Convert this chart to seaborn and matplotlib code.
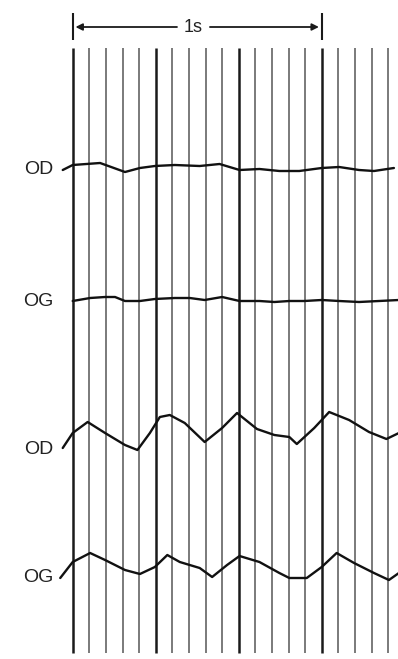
import numpy as np
import pandas as pd
import matplotlib.pyplot as plt
import seaborn as sns

# Recording: time (s) of each sample, vertical position in panel units (down = larger)
t_od1 = [-0.04, 0.0, 0.11, 0.21, 0.27, 0.33, 0.41, 0.51, 0.59, 0.67, 0.75, 0.83, 0.91, 1.0, 1.07, 1.15, 1.21, 1.29]
y_od1 = [170, 165, 163, 172, 168, 166, 165, 166, 164, 170, 169, 171, 171, 168, 167, 170, 171, 168]

t_og1 = [0.0, 0.07, 0.13, 0.17, 0.21, 0.27, 0.33, 0.41, 0.47, 0.53, 0.60, 0.67, 0.75, 0.81, 0.87, 0.93, 1.0, 1.07, 1.15, 1.23, 1.31]
y_og1 = [301, 298, 297, 297, 301, 301, 299, 298, 298, 300, 297, 301, 301, 302, 301, 301, 300, 301, 302, 301, 300]

t_od2 = [-0.04, 0.0, 0.06, 0.13, 0.21, 0.26, 0.31, 0.35, 0.39, 0.45, 0.53, 0.60, 0.66, 0.74, 0.81, 0.87, 0.90, 0.97, 1.03, 1.11, 1.19, 1.26, 1.31]
y_od2 = [448, 433, 422, 433, 445, 450, 433, 417, 415, 423, 442, 428, 413, 429, 435, 437, 444, 428, 412, 420, 432, 439, 433]

t_og2 = [-0.05, 0.0, 0.07, 0.13, 0.21, 0.27, 0.33, 0.38, 0.43, 0.51, 0.56, 0.62, 0.67, 0.75, 0.83, 0.87, 0.94, 1.0, 1.06, 1.13, 1.21, 1.27, 1.31]
y_og2 = [578, 562, 553, 560, 570, 574, 567, 555, 562, 568, 577, 565, 556, 562, 573, 578, 578, 567, 553, 563, 573, 580, 573]

labels = ["OD", "OG", "OD", "OG"]
label_y = [170, 301, 450, 577]

# time marks: every 1/15 s, heavy mark every 1/3 s
n_marks = 20
mark_t = np.arange(n_marks) / 15.0

traces = pd.concat([
    pd.DataFrame({"t": t, "y": y, "ch": i})
    for i, (t, y) in enumerate([(t_od1, y_od1), (t_og1, y_og1), (t_od2, y_od2), (t_og2, y_og2)])
])

sns.set_style("white")
plt.rcParams['font.family'] = ['Liberation Sans', 'DejaVu Sans']

fig = plt.figure(figsize=(3.98, 6.59), dpi=100)
ax = fig.add_axes([0, 0, 1, 1])

x0 = -72.7 / 249.0
x1 = (398 - 72.7) / 249.0
ax.set_xlim(x0, x1)
ax.set_ylim(659, 0)
ax.axis("off")

for i, t in enumerate(mark_t):
    heavy = i % 5 == 0
    ax.vlines(t, 48, 653, color="#1a1a1a" if heavy else "#707070",
              lw=1.8 if heavy else 1.3, zorder=1)

for ch in range(4):
    d = traces[traces["ch"] == ch]
    sns.lineplot(data=d, x="t", y="y", ax=ax, color="#111111", lw=1.7,
                 sort=False, estimator=None, zorder=3)

for lab, y in zip(labels, label_y):
    ax.text(-0.078, y, lab, ha="right", va="center", fontsize=14, color="#222222")

# 1 s scale bar
ax.vlines([0, 1], 13, 40, color="#1a1a1a", lw=1.5)
ax.annotate("", xy=(0.0, 27), xytext=(0.43, 27),
            arrowprops=dict(arrowstyle="-|>", color="#1a1a1a", lw=1.3, mutation_scale=10))
ax.annotate("", xy=(1.0, 27), xytext=(0.54, 27),
            arrowprops=dict(arrowstyle="-|>", color="#1a1a1a", lw=1.3, mutation_scale=10))
ax.text(0.483, 27, "1s", ha="center", va="center", fontsize=13, color="#222222")

fig.savefig("out.png", dpi=100, facecolor="white")
